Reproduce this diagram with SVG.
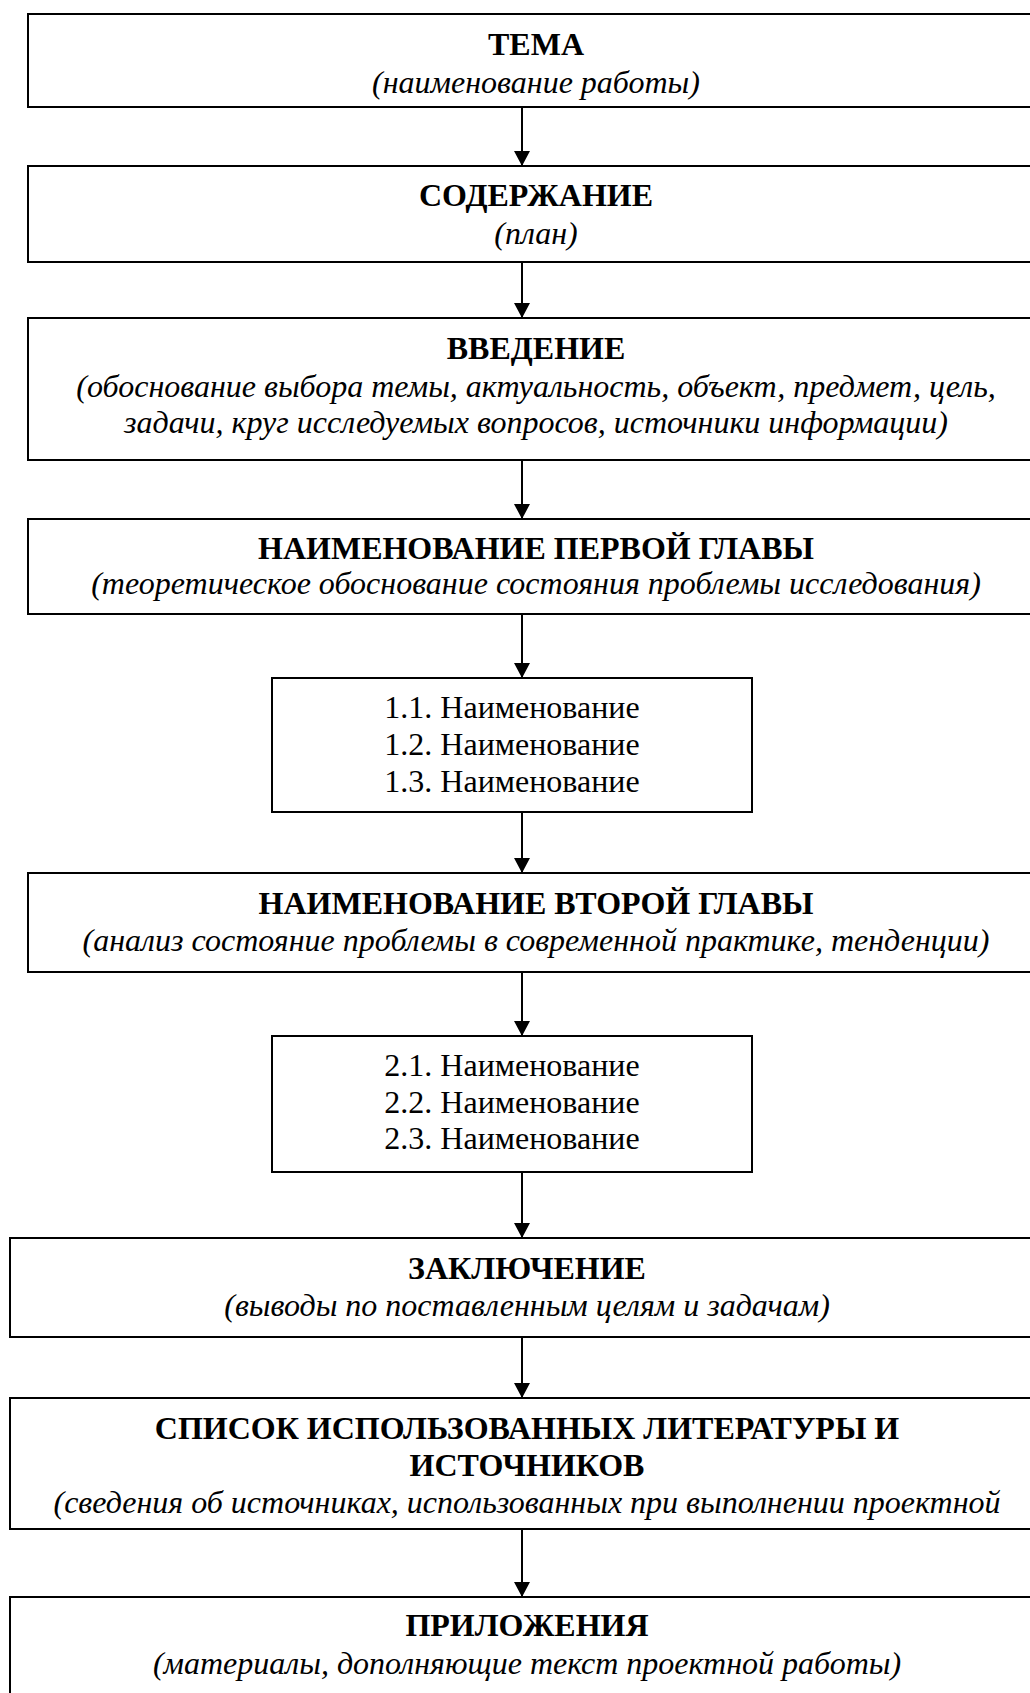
<svg xmlns="http://www.w3.org/2000/svg" width="1030" height="1693" viewBox="0 0 1030 1693">
<style>
.box{fill:#fff;stroke:#000;stroke-width:2}
.t{font-family:"Liberation Serif","Times New Roman",serif;font-size:32px;font-weight:bold;text-anchor:middle;fill:#000}
.s{font-family:"Liberation Serif","Times New Roman",serif;font-size:32px;font-style:italic;text-anchor:middle;fill:#000}
.n{font-family:"Liberation Serif","Times New Roman",serif;font-size:32px;text-anchor:middle;fill:#000}
.c{stroke:#000;stroke-width:2;fill:none}
</style>
<defs>
<marker id="ah" markerWidth="15" markerHeight="16" refX="15" refY="8" orient="auto" markerUnits="userSpaceOnUse" viewBox="0 0 15 16">
<path d="M0,0 L15,8 L0,16 Z" fill="#000"/>
</marker>
</defs>
<rect width="1030" height="1693" fill="#fff"/>
<g id="connectors">
<line class="c" x1="522" y1="107" x2="522" y2="166" marker-end="url(#ah)"/>
<line class="c" x1="522" y1="262" x2="522" y2="318" marker-end="url(#ah)"/>
<line class="c" x1="522" y1="460" x2="522" y2="519" marker-end="url(#ah)"/>
<line class="c" x1="522" y1="614" x2="522" y2="678" marker-end="url(#ah)"/>
<line class="c" x1="522" y1="812" x2="522" y2="873" marker-end="url(#ah)"/>
<line class="c" x1="522" y1="972" x2="522" y2="1036" marker-end="url(#ah)"/>
<line class="c" x1="522" y1="1172" x2="522" y2="1238" marker-end="url(#ah)"/>
<line class="c" x1="522" y1="1337" x2="522" y2="1398" marker-end="url(#ah)"/>
<line class="c" x1="522" y1="1529" x2="522" y2="1597" marker-end="url(#ah)"/>
</g>
<g id="n-tema">
<rect class="box" x="28" y="14" width="1016" height="93"/>
<text class="t" x="536" y="55">ТЕМА</text>
<text class="s" x="536" y="93">(наименование работы)</text>
</g>
<g id="n-soderzhanie">
<rect class="box" x="28" y="166" width="1016" height="96"/>
<text class="t" x="536" y="206">СОДЕРЖАНИЕ</text>
<text class="s" x="536" y="244">(план)</text>
</g>
<g id="n-vvedenie">
<rect class="box" x="28" y="318" width="1016" height="142"/>
<text class="t" x="536" y="359">ВВЕДЕНИЕ</text>
<text class="s" x="536" y="397">(обоснование выбора темы, актуальность, объект, предмет, цель,</text>
<text class="s" x="536" y="433">задачи, круг исследуемых вопросов, источники информации)</text>
</g>
<g id="n-glava1">
<rect class="box" x="28" y="519" width="1016" height="95"/>
<text class="t" x="536" y="559">НАИМЕНОВАНИЕ ПЕРВОЙ ГЛАВЫ</text>
<text class="s" x="536" y="594">(теоретическое обоснование состояния проблемы исследования)</text>
</g>
<g id="n-sub1">
<rect class="box" x="272" y="678" width="480" height="134"/>
<text class="n" x="512" y="718">1.1. Наименование</text>
<text class="n" x="512" y="755">1.2. Наименование</text>
<text class="n" x="512" y="792">1.3. Наименование</text>
</g>
<g id="n-glava2">
<rect class="box" x="28" y="873" width="1016" height="99"/>
<text class="t" x="536" y="914">НАИМЕНОВАНИЕ ВТОРОЙ ГЛАВЫ</text>
<text class="s" x="536" y="951">(анализ состояние проблемы в современной практике, тенденции)</text>
</g>
<g id="n-sub2">
<rect class="box" x="272" y="1036" width="480" height="136"/>
<text class="n" x="512" y="1076">2.1. Наименование</text>
<text class="n" x="512" y="1113">2.2. Наименование</text>
<text class="n" x="512" y="1149">2.3. Наименование</text>
</g>
<g id="n-zakl">
<rect class="box" x="10" y="1238" width="1034" height="99"/>
<text class="t" x="527" y="1279">ЗАКЛЮЧЕНИЕ</text>
<text class="s" x="527" y="1316">(выводы по поставленным целям и задачам)</text>
</g>
<g id="n-spisok">
<rect class="box" x="10" y="1398" width="1034" height="131"/>
<text class="t" x="527" y="1439">СПИСОК ИСПОЛЬЗОВАННЫХ ЛИТЕРАТУРЫ И</text>
<text class="t" x="527" y="1476">ИСТОЧНИКОВ</text>
<text class="s" x="527" y="1513">(сведения об источниках, использованных при выполнении проектной</text>
</g>
<g id="n-pril">
<rect class="box" x="10" y="1597" width="1034" height="110"/>
<text class="t" x="527" y="1636">ПРИЛОЖЕНИЯ</text>
<text class="s" x="527" y="1674">(материалы, дополняющие текст проектной работы)</text>
</g>
</svg>
